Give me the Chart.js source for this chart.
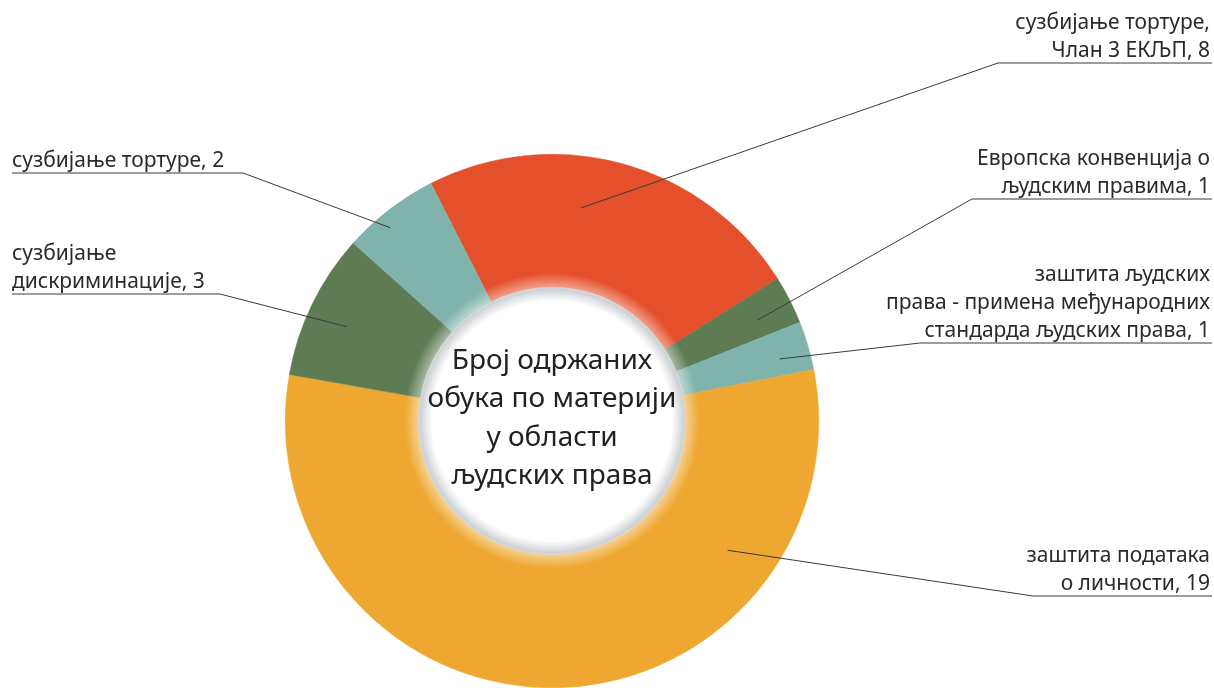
<!DOCTYPE html>
<html>
<head>
<meta charset="utf-8">
<script src="https://cdn.jsdelivr.net/npm/chart.js@4"></script>
<style>
  body { margin: 0; background: #fff; }
  #wrap { width: 1214px; height: 688px; position: relative; }
</style>
</head>
<body>
<div id="wrap"><canvas id="trainingChart"></canvas></div>
<script>
// Data
const categories = [
  ["сузбијање тортуре,", "Члан 3 ЕКЉП"],
  ["Европска конвенција о", "људским правима"],
  ["заштита људских", "права - примена међународних", "стандарда људских права"],
  ["заштита података", "о личности"],
  ["сузбијање", "дискриминације"],
  ["сузбијање тортуре"],
]
const trainingCounts = [8, 1, 1, 19, 3, 2]
const centerTitle = ["Број одржаних", "обука по материји", "у области", "људских права"]

const sliceColors = ["#E5502C", "#5E7C54", "#80B3AC", "#EEA730", "#5E7C54", "#80B3AC"]

// Label placement: frac = position along the slice, r = distance from centre,
// elbowX / lineY = where the leader line bends into the underline
const labelLayout = [
  { side: "right", frac: 0.41, r: 215, elbowX: 998, lineY: 63 },
  { side: "right", frac: 0.58, r: 229, elbowX: 972, lineY: 199 },
  { side: "right", frac: 0.61, r: 236, elbowX: 920, lineY: 343 },
  { side: "right", frac: 0.236, r: 218, elbowX: 1033, lineY: 596 },
  { side: "left", frac: 0.46, r: 226, elbowX: 220, lineY: 294 },
  { side: "left", frac: 0.39, r: 252, elbowX: 243, lineY: 173 },
]

const FONT = '"Noto Sans", sans-serif'
const TEXT_COLOR = "#2a2a2a"

const holeShadow = {
  id: "holeShadow",
  afterDatasetsDraw(chart) {
    const arc = chart.getDatasetMeta(0).data[0]
    if (!arc) return
    const { x, y, innerRadius } = arc.getProps(["x", "y", "innerRadius"], true)
    const ctx = chart.ctx
    ctx.save()
    // soft light glow over the ring just outside the hole
    const glow = ctx.createRadialGradient(x, y, innerRadius, x, y, innerRadius + 14)
    glow.addColorStop(0, "rgba(255,255,255,0.45)")
    glow.addColorStop(1, "rgba(255,255,255,0)")
    ctx.beginPath()
    ctx.arc(x, y, innerRadius + 14, 0, Math.PI * 2)
    ctx.arc(x, y, innerRadius, 0, Math.PI * 2, true)
    ctx.fillStyle = glow
    ctx.fill()
    // grey shadow inside the hole edge
    const shade = ctx.createRadialGradient(x, y, 0, x, y, innerRadius)
    shade.addColorStop(0, "#ffffff")
    shade.addColorStop((innerRadius - 14) / innerRadius, "#ffffff")
    shade.addColorStop((innerRadius - 2) / innerRadius, "#cdd1d4")
    shade.addColorStop(1, "#dadcdd")
    ctx.beginPath()
    ctx.arc(x, y, innerRadius, 0, Math.PI * 2)
    ctx.fillStyle = shade
    ctx.fill()

    // centre title
    ctx.fillStyle = "#222"
    ctx.font = "28px " + FONT
    ctx.textAlign = "center"
    ctx.textBaseline = "middle"
    const step = 38.5
    const top = y - 60
    centerTitle.forEach((line, i) => ctx.fillText(line, x, top + i * step))
    ctx.restore()
  },
}

const leaderLabels = {
  id: "leaderLabels",
  afterDraw(chart) {
    const ctx = chart.ctx
    const arcs = chart.getDatasetMeta(0).data
    ctx.save()
    ctx.font = "21px " + FONT
    ctx.fillStyle = TEXT_COLOR
    ctx.strokeStyle = "#3a3a3a"
    ctx.lineWidth = 1
    ctx.textBaseline = "alphabetic"

    arcs.forEach((arc, i) => {
      const lay = labelLayout[i]
      const { x, y, startAngle, endAngle } = arc.getProps(["x", "y", "startAngle", "endAngle"], true)
      const a = startAngle + lay.frac * (endAngle - startAngle)
      const px = x + lay.r * Math.cos(a)
      const py = y + lay.r * Math.sin(a)
      const endX = lay.side === "right" ? 1212 : 12

      ctx.beginPath()
      ctx.moveTo(px, py)
      ctx.lineTo(lay.elbowX, lay.lineY)
      ctx.lineTo(endX, lay.lineY)
      ctx.stroke()

      const lines = categories[i].slice()
      lines[lines.length - 1] += ", " + trainingCounts[i]
      ctx.textAlign = lay.side === "right" ? "right" : "left"
      const textX = lay.side === "right" ? 1210 : 12
      const lastBase = lay.lineY - 6
      lines.forEach((line, j) => {
        ctx.fillText(line, textX, lastBase - (lines.length - 1 - j) * 28)
      })
    })
    ctx.restore()
  },
}

const ctx = document.getElementById("trainingChart").getContext("2d")
new Chart(ctx, {
  type: "doughnut",
  data: {
    labels: categories.map((c) => c.join(" ")),
    datasets: [
      {
        data: trainingCounts,
        backgroundColor: sliceColors,
        borderColor: sliceColors,
        borderWidth: 0.5,
        hoverOffset: 0,
      },
    ],
  },
  options: {
    responsive: true,
    maintainAspectRatio: false,
    animation: false,
    rotation: -27,
    cutout: "50.2%",
    layout: {
      padding: { top: 154, bottom: 0, left: 284, right: 394 },
    },
    plugins: {
      legend: { display: false },
      tooltip: { enabled: false },
    },
  },
  plugins: [holeShadow, leaderLabels],
})
</script>
</body>
</html>
